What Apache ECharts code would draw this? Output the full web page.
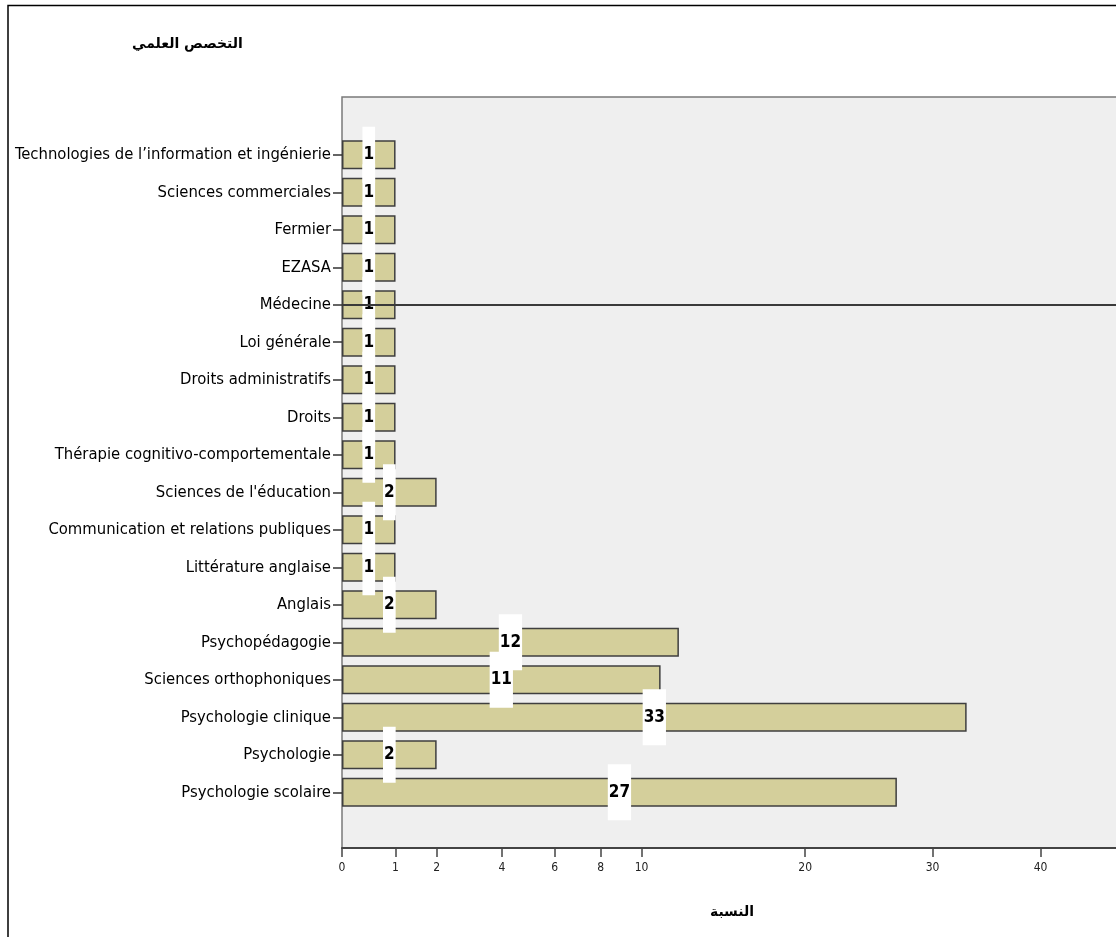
<!DOCTYPE html>
<html>
<head>
<meta charset="utf-8">
<script src="https://cdn.jsdelivr.net/npm/echarts@6/dist/echarts.min.js"></script>
<style>
html,body{margin:0;padding:0;background:#fff;}
#chart{width:1116px;height:937px;}
</style>
</head>
<body>
<div id="chart"></div>
<script>
// ---- data (bottom to top) ----
const categories = [
  'Psychologie scolaire',
  'Psychologie',
  'Psychologie clinique',
  'Sciences orthophoniques',
  'Psychopédagogie',
  'Anglais',
  'Littérature anglaise',
  'Communication et relations publiques',
  "Sciences de l'éducation",
  'Thérapie cognitivo-comportementale',
  'Droits',
  'Droits administratifs',
  'Loi générale',
  'Médecine',
  'EZASA',
  'Fermier',
  'Sciences commerciales',
  'Technologies de l’information et ingénierie'
];
const values = [27, 2, 33, 11, 12, 2, 1, 1, 2, 1, 1, 1, 1, 1, 1, 1, 1, 1];
const tickValues = [0, 1, 2, 4, 6, 8, 10, 20, 30, 40];
const chartTitle = 'التخصص العلمي';
const xTitle = 'النسبة';
const refLineCategory = 'Médecine';

// ---- scale: shifted square-root axis ----
const f = v => Math.sqrt(v + 1) - 1;
const fInv = t => Math.round((t + 1) * (t + 1) - 1);

const W = 1116, H = 937;
const plotLeft = 342, plotRightOverflow = 6;
const pxPerUnit = 129.3;
const xMax = (W + plotRightOverflow - plotLeft) / pxPerUnit;

const narrow = "'Liberation Sans Narrow','Arial Narrow','DejaVu Sans Condensed',sans-serif";
const arabic = "'DejaVu Sans','Noto Sans',sans-serif";

const chart = echarts.init(document.getElementById('chart'), null, {renderer: 'canvas'});
chart.setOption({
  backgroundColor: '#ffffff',
  animation: false,
  title: {
    text: chartTitle,
    left: 127, top: 32,
    textStyle: {fontFamily: arabic, fontSize: 14, fontWeight: 'bold', color: '#000'}
  },
  graphic: [{
    type: 'rect', silent: true, z: 100,
    shape: {x: 8, y: 5.5, width: 1300, height: 1100},
    style: {fill: null, stroke: '#000', lineWidth: 1.5}
  }],
  grid: [
    {left: plotLeft, right: -plotRightOverflow, top: 97, bottom: H - 848,
     containLabel: false, outerBoundsMode: 'none',
     show: true, backgroundColor: '#efefef', borderColor: '#7a7a7a', borderWidth: 1.5},
    {left: plotLeft, right: -plotRightOverflow, top: 136, bottom: H - 811,
     containLabel: false, outerBoundsMode: 'none'}
  ],
  xAxis: [
    {
      type: 'value', gridIndex: 0, min: 0, max: xMax,
      name: xTitle, nameLocation: 'middle', nameGap: 57,
      nameTextStyle: {fontFamily: arabic, fontSize: 14, fontWeight: 'bold', color: '#000'},
      splitLine: {show: false},
      axisLine: {show: true, lineStyle: {color: '#444', width: 2}},
      axisTick: {show: true, length: 9, customValues: tickValues.map(f), lineStyle: {color: '#444', width: 1.5}},
      axisLabel: {
        customValues: tickValues.map(f), margin: 14,
        fontFamily: narrow, fontSize: 12, color: '#222',
        formatter: v => String(fInv(v))
      }
    },
    {
      type: 'value', gridIndex: 1, min: 0, max: xMax, show: false,
      splitLine: {show: false}
    }
  ],
  yAxis: [
    {type: 'value', gridIndex: 0, show: false, min: 0, max: 1},
    {
      type: 'category', gridIndex: 1, data: categories,
      axisLine: {show: false},
      axisTick: {show: true, alignWithLabel: true, length: 9, lineStyle: {color: '#333', width: 1.5}},
      axisLabel: {fontFamily: narrow, fontSize: 16.5, color: '#000', margin: 11}
    }
  ],
  series: [{
    type: 'bar', xAxisIndex: 1, yAxisIndex: 1,
    data: values.map(f),
    barWidth: 29,
    itemStyle: {color: '#d4cf9b', borderColor: '#3f3f3f', borderWidth: 1.5},
    label: {
      show: true, position: 'inside',
      formatter: p => String(values[p.dataIndex]),
      fontFamily: narrow, fontWeight: 'bold', fontSize: 17, color: '#000',
      lineHeight: 17,
      backgroundColor: '#ffffff', padding: [20, 1, 19, 1]
    },
    markLine: {
      silent: true, symbol: ['none', 'none'], z: 10,
      label: {show: false},
      lineStyle: {type: 'solid', color: '#3a3a3a', width: 2},
      data: [{yAxis: refLineCategory}]
    }
  }]
});
</script>
</body>
</html>
